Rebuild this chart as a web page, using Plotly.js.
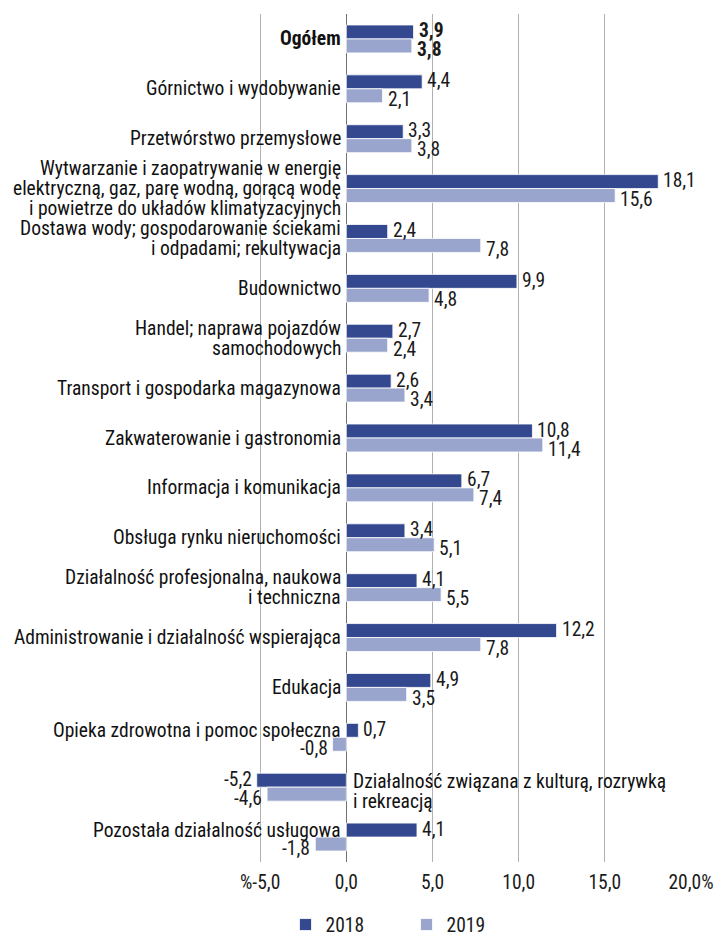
<!DOCTYPE html>
<html>
<head>
<meta charset="utf-8">
<script src="https://cdn.plot.ly/plotly-3.0.1.min.js"></script>
<style>html,body{margin:0;padding:0;background:#fff;}#chart{width:721px;height:938px;}</style>
</head>
<body>
<div id="chart"></div>
<script>
const categories = [
  "Ogółem",
  "Górnictwo i wydobywanie",
  "Przetwórstwo przemysłowe",
  "Wytwarzanie i zaopatrywanie w energię<br>elektryczną, gaz, parę wodną, gorącą wodę<br>i powietrze do układów klimatyzacyjnych",
  "Dostawa wody; gospodarowanie ściekami<br>i odpadami; rekultywacja",
  "Budownictwo",
  "Handel; naprawa pojazdów<br>samochodowych",
  "Transport i gospodarka magazynowa",
  "Zakwaterowanie i gastronomia",
  "Informacja i komunikacja",
  "Obsługa rynku nieruchomości",
  "Działalność profesjonalna, naukowa<br>i techniczna",
  "Administrowanie i działalność wspierająca",
  "Edukacja",
  "Opieka zdrowotna i pomoc społeczna",
  "Działalność związana z kulturą, rozrywką<br>i rekreacją",
  "Pozostała działalność usługowa"
];
const values2018 = [3.9, 4.4, 3.3, 18.1, 2.4, 9.9, 2.7, 2.6, 10.8, 6.7, 3.4, 4.1, 12.2, 4.9, 0.7, -5.2, 4.1];
const values2019 = [3.8, 2.1, 3.8, 15.6, 7.8, 4.8, 2.4, 3.4, 11.4, 7.4, 5.1, 5.5, 7.8, 3.5, -0.8, -4.6, -1.8];
const seriesNames = ["2018", "2019"];
const tickVals = [-5, 0, 5, 10, 15, 20];
const tickText = ["%-5,0", "0,0", "5,0", "10,0", "15,0", "20,0%"];

const FONT = "Roboto Condensed, Liberation Sans Narrow, sans-serif";
const FS = 19.5;
const DARK = "#33488f";
const LIGHT = "#99a5cc";
const fmt = (v, i) => {
  const s = v.toFixed(1).replace(".", ",");
  return i === 0 ? "<b>" + s + "</b>" : s;
};

const common = {
  type: "bar",
  orientation: "h",
  y: categories,
  textposition: "none",
  hoverinfo: "skip"
};
const series = [values2018, values2019];
const colors = [DARK, LIGHT];
const traces = series.map((vals, k) => Object.assign({}, common, {
  name: seriesNames[k], x: vals,
  marker: {color: colors[k], line: {color: "#ffffff", width: 0.8}}
}));

const annotations = [];
// Value labels, placed at each bar's end (data coordinates), 2018 above / 2019 below
const VSHIFT = [8, -11];
series.forEach((vals, k) => {
  vals.forEach((v, i) => {
    annotations.push({
      x: v, xref: "x", y: categories[i], yref: "y",
      text: fmt(v, i), showarrow: false,
      xanchor: v < 0 ? "right" : "left",
      xshift: v < 0 ? -3 : 3,
      yanchor: "middle", yshift: VSHIFT[k],
      font: {family: FONT, size: FS, color: "#1a1a1a"}
    });
  });
});

// Category labels drawn at the zero line (one annotation per line of text)
const LINE = 20;
categories.forEach((cat, i) => {
  const lines = cat.split("<br>");
  const n = lines.length;
  const allNeg = values2018[i] < 0 && values2019[i] < 0;
  const someNeg = !allNeg && (values2018[i] < 0 || values2019[i] < 0);
  lines.forEach((ln, j) => {
    annotations.push({
      x: 0, xref: "x", y: cat, yref: "y",
      text: i === 0 ? "<b>" + ln + "</b>" : ln,
      showarrow: false,
      xanchor: allNeg ? "left" : "right",
      xshift: allNeg ? 5 : -3,
      yanchor: "middle",
      yshift: ((n - 1) / 2 - j) * LINE + (someNeg ? 7 : 0) + (allNeg ? -4 : 0),
      font: {family: FONT, size: FS, color: "#111111"}
    });
  });
});

const layout = {
  width: 721, height: 938,
  margin: {l: 255, r: 30, t: 14, b: 76},
  paper_bgcolor: "#ffffff", plot_bgcolor: "#ffffff",
  barmode: "group",
  bargap: 0.44,
  bargroupgap: 0,
  showlegend: true,
  legend: {
    orientation: "h",
    xref: "container", x: 0.396, xanchor: "left",
    yref: "container", y: 0.014, yanchor: "middle",
    font: {family: FONT, size: FS, color: "#1a1a1a"},
    entrywidth: 76, entrywidthmode: "pixels",
    traceorder: "normal"
  },
  xaxis: {
    range: [-5.3, 20],
    tickvals: tickVals, ticktext: tickText,
    showgrid: true, gridcolor: "#b0b0b0", gridwidth: 1,
    zeroline: true, zerolinecolor: "#707070", zerolinewidth: 1,
    showline: false, ticks: "",
    tickfont: {family: FONT, size: FS, color: "#1a1a1a"},
    ticklabelstandoff: 6,
    fixedrange: true
  },
  yaxis: {
    type: "category",
    autorange: "reversed",
    showticklabels: false,
    showgrid: false, zeroline: false, showline: false, ticks: "",
    fixedrange: true
  },
  annotations: annotations
};

Plotly.newPlot("chart", traces, layout, {displayModeBar: false, staticPlot: true});
</script>
</body>
</html>
